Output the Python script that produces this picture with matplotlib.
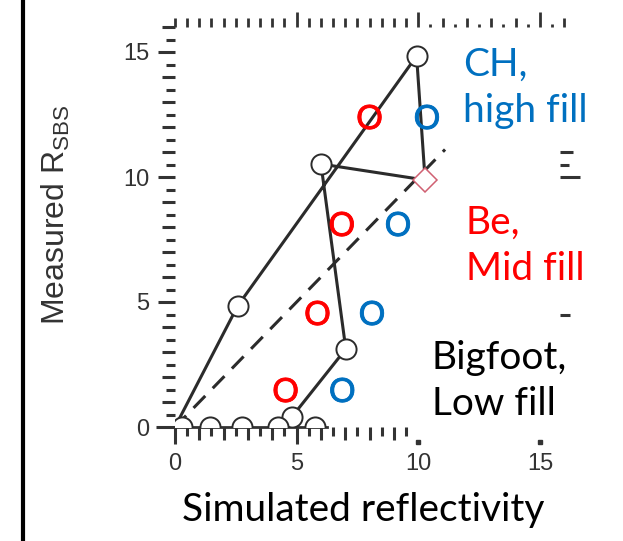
import matplotlib.pyplot as plt
import matplotlib.patheffects as pe
from matplotlib.lines import Line2D
import numpy as np

# shot sequence, simulated reflectivity vs measured R_SBS (connected in order)
path_x = [0.0, 2.58, 9.93, 10.28, 6.00, 7.02, 4.80]
path_y = [0.0, 4.85, 14.84, 9.88, 10.52, 3.12, 0.40]

# open-circle shots along the path
circ_x = [2.58, 9.93, 6.00, 7.02, 4.80]
circ_y = [4.85, 14.84, 10.52, 3.12, 0.40]

# shot drawn as a diamond
diam_x = [10.28]
diam_y = [9.88]

# shots with no measurable SBS
zero_x = [0.28, 1.44, 2.74, 4.23, 5.75]
zero_y = [0.0, 0.0, 0.0, 0.0, 0.0]

# Be (red) and CH (blue) "O" markers
be_x = [8.00, 6.86, 5.86, 4.55]
be_y = [12.28, 8.00, 4.44, 1.36]
ch_x = [10.36, 9.17, 8.10, 6.88]
ch_y = [12.28, 8.00, 4.44, 1.36]

# end of the y = x reference line
diag_end = 11.1

x_ticks = [0, 5, 10, 15]
y_ticks = [0, 5, 10, 15]

BLUE = '#0070C0'
RED = '#FF0000'
INK = '#2b2b2b'
GREY = '#333333'

W, H = 623, 541
fig = plt.figure(figsize=(W / 100, H / 100), dpi=100)

# axes placed so one unit is ~24 px across and 25 px up
x0_px, y0_px = 175, 427
sx, sy = 24.33, 25.0
xmax, ymax = 16.5, 16.0
ax = fig.add_axes([x0_px / W, (H - y0_px) / H, xmax * sx / W, ymax * sy / H])
ax.set_xlim(0, xmax)
ax.set_ylim(0, ymax)
ax.patch.set_alpha(0)

for s in ['top', 'right', 'left']:
    ax.spines[s].set_visible(False)
ax.spines['bottom'].set_bounds(0, 6.25)
ax.spines['bottom'].set_linewidth(2)
ax.spines['bottom'].set_color(GREY)

# ticks
ax.set_xticks(x_ticks)
ax.set_xticklabels([str(t) for t in x_ticks])
x_minor = [v for v in np.arange(0.5, 10, 0.5) if v % 5 != 0]
ax.set_xticks(x_minor, minor=True)
ax.set_yticks(y_ticks)
ax.set_yticklabels([str(t) for t in y_ticks])
y_minor = [v for v in np.arange(0.5, 16.5, 0.5) if v % 5 != 0]
ax.set_yticks(y_minor, minor=True)

ax.tick_params(which='major', direction='out', length=12.5, width=2.2,
               color=GREY, labelsize=17, labelcolor=GREY, pad=6)
ax.tick_params(which='minor', direction='out', length=6.5, width=2.2, color=GREY)
for lab in ax.get_xticklabels() + ax.get_yticklabels():
    lab.set_family('Liberation Sans')

# whole-number minor ticks a bit longer than half-step ones
for loc, tick in zip(ax.xaxis.get_minorticklocs(), ax.xaxis.get_minor_ticks()):
    tick.tick1line.set_markersize(9.0 if loc % 1 == 0 else 6.5)
for loc, tick in zip(ax.yaxis.get_minorticklocs(), ax.yaxis.get_minor_ticks()):
    tick.tick1line.set_markersize(9.4 if loc % 1 == 0 else 6.5)
ax.yaxis.get_major_ticks()[0].tick1line.set_markersize(13.5)

# 10 and 15 only get a small dot instead of a tick
for tick in ax.xaxis.get_major_ticks()[2:]:
    tick.tick1line.set_visible(False)
ax.plot(x_ticks[2:], [-0.6, -0.6], ls='none', marker='s', ms=2.2,
        color=GREY, clip_on=False)

# tick row along the top edge
top = ax.secondary_xaxis('top')
for s in top.spines.values():
    s.set_visible(False)
top.set_xticks([5, 10, 15])
top.set_xticks([v for v in np.arange(0, 16.5, 0.5) if v % 5 != 0 or v == 0], minor=True)
top.tick_params(which='major', direction='out', length=10.8, width=2,
                color=GREY, labeltop=False)
top.tick_params(which='minor', direction='out', length=6.5, width=2, color=GREY)
for loc, tick in zip(top.xaxis.get_minorticklocs(), top.xaxis.get_minor_ticks()):
    if loc > 10 and loc % 1 != 0:
        tick.tick2line.set_markersize(2)

# y = x reference
ax.plot([0, diag_end], [0, diag_end], ls=(0.3, (5.5, 3.5)), lw=2.2, color=INK, zorder=2)

# connected sequence
ax.plot(path_x, path_y, lw=2.2, color=INK, zorder=3)
ax.plot(circ_x, circ_y, ls='none', marker='o', ms=14.5, mfc='white',
        mec=INK, mew=1.4, zorder=4)
ax.plot(zero_x, zero_y, ls='none', marker='o', ms=14.5, mfc='white',
        mec=INK, mew=1.4, zorder=4)
ax.plot(diam_x, diam_y, ls='none', marker='D', ms=12, mfc='white',
        mec='#d06072', mew=1.1, zorder=4)

# Be / CH markers
for xs, ys, c in [(be_x, be_y, RED), (ch_x, ch_y, BLUE)]:
    for x, y in zip(xs, ys):
        ax.text(x, y, 'O', color=c, fontsize=24, family='Lato',
                ha='center', va='center', zorder=5,
                path_effects=[pe.withStroke(linewidth=0.6, foreground=c)])

# legend-like labels
ax.text(11.84, 15.2, 'CH,\nhigh fill', color=BLUE, fontsize=28, family='Lato',
        ha='left', va='top', linespacing=1.33)
ax.text(11.96, 8.88, 'Be,\nMid fill', color=RED, fontsize=28, family='Lato',
        ha='left', va='top', linespacing=1.33)
ax.text(10.56, 3.48, 'Bigfoot,\nLow fill', color='black', fontsize=28, family='Lato',
        ha='left', va='top', linespacing=1.33)

# axis titles
ax.set_xlabel('Simulated reflectivity', fontsize=28, family='Lato', color='black')
ax.xaxis.set_label_coords((363 - x0_px) / (xmax * sx), -(521 - y0_px) / (ymax * sy))
ax.xaxis.label.set_va('baseline')
ax.set_ylabel(r'Measured R$_{\mathregular{SBS}}$', fontsize=23,
              family='Liberation Sans', color=GREY)
ax.yaxis.set_label_coords(-(x0_px - 56) / (xmax * sx), (y0_px - 215) / (ymax * sy))
ax.yaxis.label.set_va('center')

# stray ticks on the right
for y, n in zip([11.0, 10.5, 10.0, 4.5], [13, 9, 20, 10]):
    ax.plot([15.84, 15.84 + n / sx], [y, y], lw=2.2, color=GREY,
            solid_capstyle='butt', clip_on=False)

# frame line on the left
fig.add_artist(Line2D([23 / W, 23 / W], [0, 1], transform=fig.transFigure,
                      lw=3, color='black'))

fig.savefig('out.png', dpi=100)
